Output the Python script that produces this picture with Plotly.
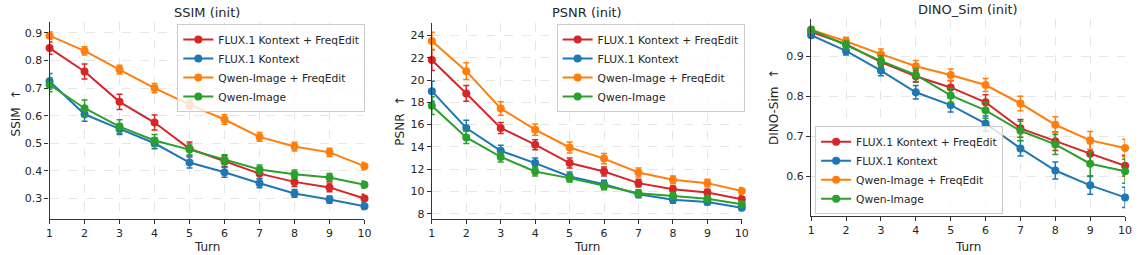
import plotly.graph_objects as go

turns = [1, 2, 3, 4, 5, 6, 7, 8, 9, 10]
series_names = ["FLUX.1 Kontext + FreqEdit", "FLUX.1 Kontext", "Qwen-Image + FreqEdit", "Qwen-Image"]
colors = ["#d62728", "#1f77b4", "#ff7f0e", "#2ca02c"]

# SSIM
ssim_flux_freq = [0.845, 0.760, 0.650, 0.575, 0.480, 0.435, 0.390, 0.360, 0.340, 0.300]
ssim_flux = [0.725, 0.605, 0.552, 0.500, 0.430, 0.395, 0.355, 0.318, 0.296, 0.272]
ssim_qwen_freq = [0.890, 0.835, 0.767, 0.700, 0.640, 0.586, 0.523, 0.488, 0.467, 0.417]
ssim_qwen = [0.712, 0.627, 0.560, 0.510, 0.477, 0.440, 0.405, 0.388, 0.376, 0.350]
ssim_err_flux_freq = [0.022, 0.027, 0.028, 0.027, 0.025, 0.020, 0.018, 0.017, 0.016, 0.015]
ssim_err_flux = [0.028, 0.025, 0.020, 0.020, 0.020, 0.018, 0.016, 0.014, 0.013, 0.012]
ssim_err_qwen_freq = [0.014, 0.015, 0.016, 0.017, 0.017, 0.017, 0.016, 0.016, 0.015, 0.014]
ssim_err_qwen = [0.025, 0.030, 0.025, 0.022, 0.020, 0.018, 0.016, 0.015, 0.014, 0.013]

# PSNR
psnr_flux_freq = [21.8, 18.8, 15.7, 14.2, 12.55, 11.8, 10.75, 10.2, 9.9, 9.3]
psnr_flux = [19.0, 15.7, 13.65, 12.55, 11.35, 10.65, 9.75, 9.25, 9.05, 8.55]
psnr_qwen_freq = [23.5, 20.8, 17.45, 15.55, 13.95, 12.95, 11.7, 11.05, 10.75, 10.05]
psnr_qwen = [17.7, 14.85, 13.1, 11.8, 11.2, 10.5, 9.85, 9.6, 9.35, 8.85]
psnr_err_flux_freq = [0.95, 0.7, 0.5, 0.45, 0.45, 0.4, 0.35, 0.3, 0.3, 0.3]
psnr_err_flux = [0.9, 0.7, 0.5, 0.45, 0.4, 0.35, 0.3, 0.3, 0.25, 0.25]
psnr_err_qwen_freq = [0.8, 0.75, 0.6, 0.5, 0.5, 0.45, 0.4, 0.35, 0.35, 0.3]
psnr_err_qwen = [0.8, 0.55, 0.45, 0.4, 0.35, 0.35, 0.3, 0.3, 0.3, 0.3]

# DINO_Sim
dino_flux_freq = [0.960, 0.930, 0.885, 0.850, 0.822, 0.785, 0.720, 0.688, 0.657, 0.627]
dino_flux = [0.952, 0.913, 0.864, 0.810, 0.778, 0.732, 0.670, 0.615, 0.578, 0.548]
dino_qwen_freq = [0.966, 0.937, 0.905, 0.875, 0.853, 0.828, 0.782, 0.729, 0.690, 0.671]
dino_qwen = [0.966, 0.928, 0.888, 0.853, 0.802, 0.765, 0.714, 0.680, 0.632, 0.613]
dino_err_flux_freq = [0.008, 0.010, 0.012, 0.015, 0.017, 0.019, 0.022, 0.023, 0.025, 0.026]
dino_err_flux = [0.007, 0.010, 0.013, 0.017, 0.017, 0.019, 0.019, 0.021, 0.022, 0.025]
dino_err_qwen_freq = [0.007, 0.010, 0.013, 0.014, 0.015, 0.016, 0.018, 0.020, 0.022, 0.022]
dino_err_qwen = [0.008, 0.010, 0.013, 0.016, 0.018, 0.020, 0.024, 0.025, 0.030, 0.030]

panels = [
    dict(title="SSIM (init)", ylabel="SSIM  ↑",
         values=[ssim_flux_freq, ssim_flux, ssim_qwen_freq, ssim_qwen],
         errors=[ssim_err_flux_freq, ssim_err_flux, ssim_err_qwen_freq, ssim_err_qwen],
         yrange=[0.225, 0.938], yticks=[0.3, 0.4, 0.5, 0.6, 0.7, 0.8, 0.9],
         xdom=[46, 364], ydom=[220, 22.5], ylab=(12, 113), title_y=13,
         legend=dict(x=175, y=24, anchor="top")),
    dict(title="PSNR (init)", ylabel="PSNR  ↑",
         values=[psnr_flux_freq, psnr_flux, psnr_qwen_freq, psnr_qwen],
         errors=[psnr_err_flux_freq, psnr_err_flux, psnr_err_qwen_freq, psnr_err_qwen],
         yrange=[7.52, 25.1], yticks=[8, 10, 12, 14, 16, 18, 20, 22, 24],
         xdom=[432, 745], ydom=[220, 23.3], ylab=(399, 121), title_y=13,
         legend=dict(x=558, y=24, anchor="top")),
    dict(title="DINO_Sim (init)", ylabel="DINO-Sim  ↑",
         values=[dino_flux_freq, dino_flux, dino_qwen_freq, dino_qwen],
         errors=[dino_err_flux_freq, dino_err_flux, dino_err_qwen_freq, dino_err_qwen],
         yrange=[0.502, 0.992], yticks=[0.6, 0.7, 0.8, 0.9],
         xdom=[815, 1132], ydom=[216.7, 19.3], ylab=(777, 108), title_y=10,
         legend=dict(x=819, y=215, anchor="bottom")),
]

W, H = 1141, 255
fig = go.Figure()
font_family = "DejaVu Sans"
text_color = "#262626"
annotations = []
layout_upd = {}

for i, p in enumerate(panels):
    n = "" if i == 0 else str(i + 1)
    xa, ya = "x" + n, "y" + n
    lg = "legend" + n
    for name, vals, errs, c in zip(series_names, p["values"], p["errors"], colors):
        fig.add_trace(go.Scatter(
            x=turns, y=vals, name=name, mode="lines+markers",
            line=dict(color=c, width=2), marker=dict(color=c, size=8),
            error_y=dict(type="data", array=errs, visible=True, color=c,
                         thickness=1.5, width=3),
            xaxis=xa, yaxis=ya, legend=lg, cliponaxis=False, showlegend=True,
        ))
    x0, x1 = p["xdom"]
    yb, yt = p["ydom"]
    axis_common = dict(showline=True, linecolor="#333333", linewidth=1.2,
                       ticks="outside", ticklen=4, tickwidth=1, tickcolor="#333333",
                       showgrid=True, gridcolor="#e6e6e6", griddash="dash", gridwidth=1,
                       zeroline=False, tickfont=dict(size=11, color=text_color, family=font_family),
                       mirror=False)
    layout_upd["xaxis" + n] = dict(domain=[x0 / W, x1 / W], anchor=ya, range=[1, 10],
                                   tickmode="array", tickvals=turns, **axis_common)
    layout_upd["yaxis" + n] = dict(domain=[1 - yb / H, 1 - yt / H], anchor=xa,
                                   range=p["yrange"], tickmode="array", tickvals=p["yticks"],
                                   **axis_common)
    lgd = p["legend"]
    layout_upd[lg] = dict(x=lgd["x"] / W, y=1 - lgd["y"] / H, xanchor="left",
                          yanchor=lgd["anchor"], bgcolor="rgba(255,255,255,0.8)",
                          bordercolor="#cccccc", borderwidth=1,
                          font=dict(size=10.7, color=text_color, family=font_family),
                          itemwidth=30, tracegroupgap=0)
    # title
    annotations.append(dict(text=p["title"], x=(x0 + x1) / 2 / W, y=1 - p["title_y"] / H,
                            xref="paper", yref="paper", showarrow=False, xanchor="center",
                            yanchor="middle", font=dict(size=13, color=text_color, family=font_family)))
    # x label
    annotations.append(dict(text="Turn", x=(x0 + x1) / 2 / W, y=1 - 248 / H,
                            xref="paper", yref="paper", showarrow=False, xanchor="center",
                            yanchor="middle", font=dict(size=12, color=text_color, family=font_family)))
    # y label
    lx, ly = p["ylab"]
    annotations.append(dict(text=p["ylabel"], x=lx / W, y=1 - ly / H,
                            xref="paper", yref="paper", showarrow=False, xanchor="center",
                            yanchor="middle", textangle=-90,
                            font=dict(size=12, color=text_color, family=font_family)))

fig.update_layout(
    width=W, height=H, margin=dict(l=0, r=0, t=0, b=0),
    paper_bgcolor="white", plot_bgcolor="white",
    font=dict(family=font_family, color=text_color),
    annotations=annotations, **layout_upd,
)

fig.write_html("out.html", config={"displayModeBar": False},
               post_script="document.body.style.margin='0';document.body.style.overflow='hidden';")
